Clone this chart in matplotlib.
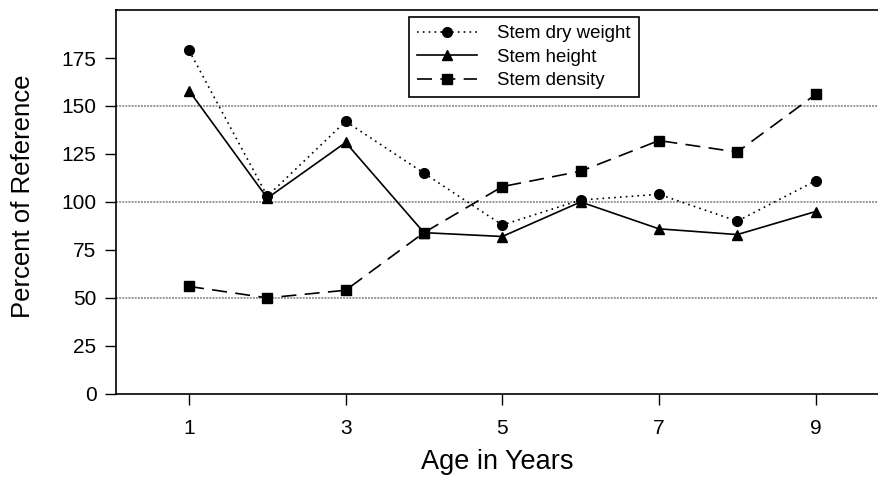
# Stem growth relative to reference, by age

import matplotlib.pyplot as plt

plt.rcParams['font.family'] = ['Liberation Sans', 'DejaVu Sans']

edad = [1, 2, 3, 4, 5, 6, 7, 8, 9]
peso_seco = [179, 103, 142, 115, 88, 101, 104, 90, 111]
altura = [158, 102, 131, 84, 82, 100, 86, 83, 95]
densidad = [56, 50, 54, 84, 108, 116, 132, 126, 156]

fig = plt.figure(figsize=(8.79, 4.78), dpi=100)
ax = fig.add_axes([0.132, 0.176, 0.868, 0.803])

# lineas de referencia grises
for y in (50, 100, 150):
    ax.axhline(y, color='#999999', lw=1.4, ls=(0, (1, 0.6)), zorder=1)

ax.plot(edad, peso_seco, color='black', lw=1.2, ls=(0, (1, 2.5)),
        marker='o', ms=7, label='Stem dry weight', zorder=3)
ax.plot(edad, altura, color='black', lw=1.2, ls='-',
        marker='^', ms=7, label='Stem height', zorder=3)
ax.plot(edad, densidad, color='black', lw=1.2, ls=(0, (9, 5)),
        marker='s', ms=7, label='Stem density', zorder=3)

ax.set_xlim(0.068, 9.81)
ax.set_ylim(0, 200)
ax.set_xticks([1, 3, 5, 7, 9])
ax.set_yticks([0, 25, 50, 75, 100, 125, 150, 175])
ax.tick_params(axis='both', direction='out', length=8, width=1, labelsize=15)
ax.tick_params(axis='x', pad=10)
ax.tick_params(axis='y', pad=6)
ax.spines['right'].set_visible(False)
for s in ('left', 'top', 'bottom'):
    ax.spines[s].set_linewidth(1.2)

ax.set_xlabel('Age in Years', fontsize=19.5, labelpad=8)
ax.set_ylabel('Percent of Reference', fontsize=18.5)
ax.yaxis.set_label_coords(-0.106, 0.515)

leg = ax.legend(loc='upper left', bbox_to_anchor=(0.384, 0.982), borderaxespad=0,
                fontsize=13.4, frameon=True, fancybox=False, edgecolor='black',
                framealpha=1, handlelength=3.2, handletextpad=1.1,
                borderpad=0.45, labelspacing=0.34)
leg.get_frame().set_linewidth(1.2)

fig.savefig('out.png', dpi=100)
